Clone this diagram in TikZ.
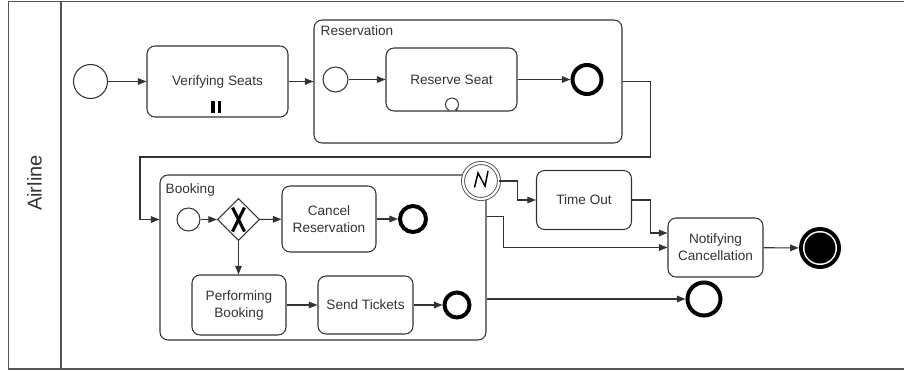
\documentclass[tikz,border=0pt]{standalone}
\usepackage{fontspec}
\setmainfont{Liberation Sans}
\usetikzlibrary{arrows.meta,shapes.geometric,calc}
\definecolor{ink}{HTML}{333333}
\definecolor{lanegray}{HTML}{555555}
\tikzset{
  lbl/.style={font=\fontsize{10.2}{12.75}\selectfont, text=ink},
  task/.style={draw=ink, line width=0.8pt, rounded corners=6pt, fill=white, align=center, inner sep=0pt, lbl},
  container/.style={draw=ink, line width=0.8pt, rounded corners=6pt, inner sep=0pt},
  startev/.style={circle, draw=ink, line width=0.8pt, fill=white, inner sep=0pt},
  endev/.style={circle, draw=black, line width=3pt, fill=white, inner sep=0pt},
  gateway/.style={diamond, draw=ink, line width=0.8pt, fill=white, inner sep=0pt, aspect=1},
  flow/.style={draw=ink, line width=0.8pt, -{Triangle[length=6.5pt,width=5pt]}},
}
\begin{document}
\begin{tikzpicture}[x=0.75pt, y=-0.75pt]
\useasboundingbox (0,0) rectangle (904,371);

% pool / lane frame
\draw[lanegray, line width=1.1pt] (904,1.5) -- (8.5,1.5) -- (8.5,369) -- (904,369);
\draw[lanegray, line width=1.1pt] (61,1.5) -- (61,369);
\node[rotate=90, font=\fontsize{15}{18}\selectfont, text=ink] (lane) at (34.5,183) {Airline};

% sub-processes
\node[container, minimum width=308*0.75pt, minimum height=123*0.75pt] (res) at (468,81.5) {};
\node[lbl, anchor=base west, inner sep=0pt] (reslbl) at ($(res.north west)+(7,16)$) {Reservation};
\node[container, minimum width=326*0.75pt, minimum height=165*0.75pt] (book) at (323,257.5) {};
\node[lbl, anchor=base west, inner sep=0pt] (booklbl) at ($(book.north west)+(6,19)$) {Booking};

% top row
\node[startev, minimum size=34*0.75pt] (s0) at (90.5,81.5) {};
\node[task, minimum width=141*0.75pt, minimum height=71*0.75pt] (vs) at (217.5,81.5) {Verifying Seats};
\fill[black] ($(vs.south)+(-6.5,-17)$) rectangle ($(vs.south)+(-3,-5)$);
\fill[black] ($(vs.south)+(0,-17)$) rectangle ($(vs.south)+(3.5,-5)$);

\node[startev, minimum size=25*0.75pt] (s1) at (335.5,79.5) {};
\node[task, minimum width=131*0.75pt, minimum height=63*0.75pt] (rs) at (451.5,79.5) {Reserve Seat};
\draw[ink, line width=0.7pt, -{Stealth[length=2.6pt,width=2.8pt]}]
  ($(rs.south)+(0.5,-7)+(115:6.5)$) arc[start angle=115, end angle=425, radius=6.5];
\node[endev, minimum size=29*0.75pt] (e1) at (587,79.5) {};

% booking contents
\node[startev, minimum size=23*0.75pt] (s2) at (188.5,219.5) {};
\node[gateway, minimum width=42*0.75pt, minimum height=42*0.75pt] (gw) at (238.5,219.5) {};
\draw[black, line width=2.2pt] ($(gw)+(-6,-12)$) -- ($(gw)+(6,12)$);
\draw[black, line width=2.2pt] ($(gw)+(6,-12)$) -- ($(gw)+(-6,12)$);
\node[task, minimum width=94*0.75pt, minimum height=66*0.75pt] (cr) at (329,219) {Cancel\\Reservation};
\node[endev, minimum size=26*0.75pt] (e2) at (413,219) {};
\node[task, minimum width=94*0.75pt, minimum height=60*0.75pt] (pb) at (239,305) {Performing\\Booking};
\node[task, minimum width=95*0.75pt, minimum height=58*0.75pt] (st) at (365.5,305) {Send Tickets};
\node[endev, minimum size=25*0.75pt] (e3) at (457,305) {};

% boundary event on the booking sub-process
\node[startev, minimum size=36*0.75pt, draw=lanegray, double=white, double distance=1.6pt, line width=0.7pt] (bnd) at (481,181) {};
\draw[black, line width=1.1pt, line join=miter]
  ($(bnd)+(-6.5,6.5)$) -- ($(bnd)+(-3,-8)$) -- ($(bnd)+(4,5)$) -- ($(bnd)+(7,-10)$);

% right side
\node[task, minimum width=95*0.75pt, minimum height=59*0.75pt] (to) at (584,200) {Time Out};
\node[task, minimum width=95*0.75pt, minimum height=59*0.75pt] (nc) at (715.5,247.5) {Notifying\\Cancellation};
\node[endev, minimum size=33*0.75pt] (e4) at (704,299) {};
\node[circle, fill=black, inner sep=0pt, minimum size=42*0.75pt] (term) at (820,248) {};
\fill[white] (term) circle[radius=17];
\fill[black] (term) circle[radius=15.5];

% sequence flows
\draw[flow] (s0) -- (vs);
\draw[flow] (vs) -- (res);
\draw[flow] (s1) -- (rs);
\draw[flow] (rs) -- (e1);
\draw[flow] (res.east) -- ++(28,0) |- (140,157) |- (book.west |- s2);
\draw[flow] (s2) -- (gw);
\draw[flow] (gw) -- (cr);
\draw[flow] (cr) -- (e2);
\draw[flow] (gw) -- (gw |- pb.north);
\draw[flow] (pb) -- (st);
\draw[flow] (st) -- (e3);
\draw[flow] (bnd.east) -- ++(18,0) |- (to.west);
\draw[flow] (to.east) -- ++(18,0) |- ($(nc.west)+(0,-14.5)$);
\draw[flow] ($(book.north east)+(0,42)$) -- ++(17,0) |- (nc.west);
\draw[flow] (book.east |- e4) -- (e4);
\draw[flow] (nc) -- (term);
\end{tikzpicture}
\end{document}
